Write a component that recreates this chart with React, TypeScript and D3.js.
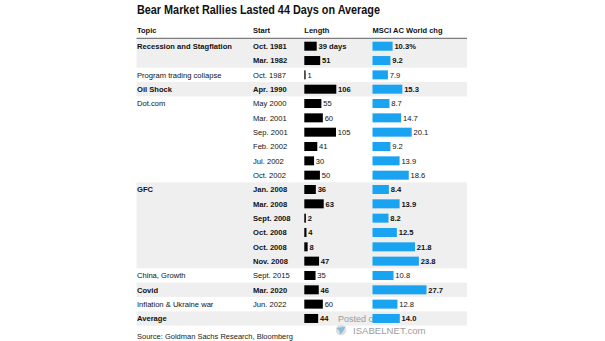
import React from "react";
import * as d3 from "d3";

const topics = ["Recession and Stagflation", "", "Program trading collapse", "Oil Shock", "Dot.com", "", "", "", "", "", "GFC", "", "", "", "", "", "China, Growth", "Covid", "Inflation & Ukraine war", "Average"];
const starts = ["Oct. 1981", "Mar. 1982", "Oct. 1987", "Apr. 1990", "May 2000", "Mar. 2001", "Sep. 2001", "Feb. 2002", "Jul. 2002", "Oct. 2002", "Jan. 2008", "Mar. 2008", "Sept. 2008", "Oct. 2008", "Oct. 2008", "Nov. 2008", "Sept. 2015", "Mar. 2020", "Jun. 2022", ""];
const lengths = [39, 51, 1, 106, 55, 60, 105, 41, 30, 50, 36, 63, 2, 4, 8, 47, 35, 46, 60, 44];
const msci = [10.3, 9.2, 7.9, 15.3, 8.7, 14.7, 20.1, 9.2, 13.9, 18.6, 8.4, 13.9, 8.2, 12.5, 21.8, 23.8, 10.8, 27.7, 12.8, 14.0];
const highlighted = [1, 1, 0, 1, 0, 0, 0, 0, 0, 0, 1, 1, 1, 1, 1, 1, 0, 1, 0, 1];
const headers = ["Topic", "Start", "Length", "MSCI AC World chg"];

const W = 605, H = 341;
const left = 136.5, right = 467;
const colX = [137, 253, 304.3, 372.5];
const firstRowY = 46.2, rowStep = 14.33;
const barH = 9;
const FONT = "'Liberation Sans', Arial, Helvetica, sans-serif";

export default function App() {
  const y = d3.scaleLinear().domain([0, 1]).range([firstRowY, firstRowY + rowStep]);
  const xLen = d3.scaleLinear().domain([0, 106]).range([1, 32]);
  const xMsci = d3.scaleLinear().domain([0, 27.7]).range([0, 54]);

  const bands: { s: number; e: number }[] = [];
  highlighted.forEach((h, i) => {
    if (!h) return;
    const last = bands[bands.length - 1];
    if (last && last.e === i - 1) last.e = i;
    else bands.push({ s: i, e: i });
  });

  return (
    <svg width={W} height={H} style={{ position: "absolute", left: 0, top: 0, background: "#fff" }} fontFamily={FONT}>
      <rect width={W} height={H} fill="#fff" />
      <text x={137} y={14.3} fontSize={12.4} fontWeight="bold" fill="#111" textLength={243} lengthAdjust="spacingAndGlyphs">
        Bear Market Rallies Lasted 44 Days on Average
      </text>
      {headers.map((h, i) => (
        <text key={h} x={colX[i]} y={32.7} fontSize={7.5} fontWeight="bold" fill="#111">{h}</text>
      ))}
      {bands.map((b, i) => (
        <rect key={i} x={left} width={right - left} y={y(b.s) - rowStep / 2} height={y(b.e) - y(b.s) + rowStep} fill="#efefef" />
      ))}
      <line x1={left} x2={right} y1={38.3} y2={38.3} stroke="#333" strokeWidth={0.8} />
      <g opacity={0.85}>
        <text x={338} y={321.5} fontSize={9} fill="#8c8c8c">Posted on</text>
        <circle cx={341} cy={330} r={5.2} fill="#d8d8d8" />
        <path d="M336.5,328 L345.5,326.5 L343,331.5 L340,334.5 L339.5,331 Z" fill="#6fb3dc" />
        <text x={353} y={334} fontSize={9.6} fill="#8c8c8c">ISABELNET.com</text>
      </g>
      {lengths.map((v, i) => {
        const cy = y(i);
        const bold = highlighted[i] ? "bold" : "normal";
        const fill = "#111";
        const lw = xLen(v);
        const mw = xMsci(msci[i]);
        return (
          <g key={i} fontSize={7.6} fontWeight={bold} fill={fill}>
            <text x={colX[0]} y={cy + 2.7}>{topics[i]}</text>
            <text x={colX[1]} y={cy + 2.7}>{starts[i]}</text>
            <rect x={colX[2]} y={cy - barH / 2} width={lw} height={barH} fill="#000" />
            <text x={colX[2] + lw + 1.8} y={cy + 2.7}>{i === 0 ? `${v} days` : `${v}`}</text>
            <rect x={colX[3]} y={cy - barH / 2} width={mw} height={barH} fill="#1aa3f1" />
            <text x={colX[3] + mw + 1.8} y={cy + 2.7}>{i === 0 ? `${msci[i].toFixed(1)}%` : msci[i].toFixed(1)}</text>
          </g>
        );
      })}
      <text x={137} y={338.6} fontSize={7.5} fill="#222">Source: Goldman Sachs Research, Bloomberg</text>
    </svg>
  );
}
